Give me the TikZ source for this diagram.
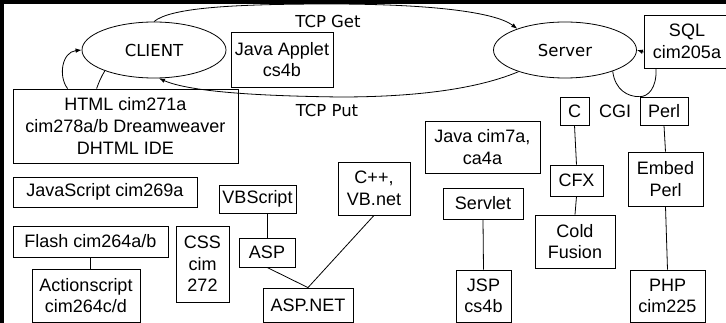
\documentclass[tikz,border=0pt]{standalone}
\usepackage{fontspec}
\setmainfont{Liberation Sans}
\newfontfamily\tahfont{DejaVu Sans}
\usetikzlibrary{shapes.geometric,arrows.meta}
\newcommand\boxfont{\fontsize{18}{21.6}\selectfont}
\newcommand\ellfont{\tahfont\fontsize{16.5}{19}\selectfont}
\tikzset{
  box/.style={draw=black, line width=0.8pt, inner sep=0pt, align=center, font=\boxfont},
  ell/.style={ellipse, draw=black, line width=0.8pt, inner sep=0pt, font=\ellfont},
  lbl/.style={inner sep=0pt, font=\ellfont},
  lbl2/.style={inner sep=0pt, font=\boxfont},
  con/.style={line width=0.8pt, draw=black},
  arr/.style={con, -{Latex[length=6pt,width=4.5pt]}}
}
\begin{document}
\begin{tikzpicture}[x=1pt,y=-1pt]
\useasboundingbox (0,0) rectangle (726,323);
\clip (0,0) rectangle (726,323);
\fill[white] (0,0) rectangle (726,323);
% ellipses
\node[ell, minimum width=144pt, minimum height=56pt] (client) at (154,50) {CLIENT};
\node[ell, minimum width=143pt, minimum height=56pt] (server) at (565,50) {Server};
% labels
\node[lbl] (tcpget) at (328,21) {TCP Get};
\node[lbl] (tcpput) at (327,110) {TCP Put};
\node[lbl2] (cgi) at (615,111) {CGI};
% boxes
\node[box, minimum width=102pt, minimum height=55pt] (applet) at (282,59.5) {Java Applet\\cs4b};
\node[box, minimum width=225pt, minimum height=74pt] (html) at (125.5,126) {HTML cim271a\\cim278a/b Dreamweaver\\DHTML IDE};
\node[box, minimum width=86pt, minimum height=53pt] (sql) at (687,41.5) {SQL\\cim205a};
\node[box, minimum width=48pt, minimum height=28pt] (perl) at (664,111) {Perl};
\node[box, minimum width=29pt, minimum height=28pt] (c) at (574.5,111) {C};
\node[box, minimum width=115pt, minimum height=52pt] (java7) at (482.5,147) {Java cim7a,\\ca4a};
\node[box, minimum width=53pt, minimum height=31pt] (cfx) at (576.5,180.5) {CFX};
\node[box, minimum width=80pt, minimum height=53pt] (cold) at (575,241.5) {Cold\\Fusion};
\node[box, minimum width=75pt, minimum height=54pt] (embed) at (665.5,179) {Embed\\Perl};
\node[box, minimum width=75pt, minimum height=52pt] (php) at (667.5,296) {PHP\\cim225};
\node[box, minimum width=80pt, minimum height=31pt] (servlet) at (483,203.5) {Servlet};
\node[box, minimum width=55pt, minimum height=52pt] (jsp) at (483.5,296) {JSP\\cs4b};
\node[box, minimum width=72pt, minimum height=53pt] (cpp) at (374,188.5) {C++,\\VB.net};
\node[box, minimum width=184pt, minimum height=30pt] (js) at (105,192) {JavaScript cim269a};
\node[box, minimum width=155pt, minimum height=31pt] (flash) at (90.5,241.5) {Flash cim264a/b};
\node[box, minimum width=108pt, minimum height=53pt] (act) at (86,295.5) {Actionscript\\cim264c/d};
\node[box, minimum width=53pt, minimum height=76pt] (css) at (202.5,264) {CSS\\cim\\272};
\node[box, minimum width=77pt, minimum height=28pt] (vbs) at (257.5,199) {VBScript};
\node[box, minimum width=56pt, minimum height=29pt] (asp) at (267,252.5) {ASP};
\node[box, minimum width=90pt, minimum height=34pt] (aspnet) at (308,305) {ASP.NET};
% connectors
\draw[arr] (client.north) .. controls (170,8) and (230,4) .. (330,4) .. controls (430,4) and (495,12) .. (server.156);
\draw[arr] (server.205) .. controls (470,92) and (400,97) .. (340,97) .. controls (260,96) and (190,92) .. (client.280);
\draw[arr] ([xshift=55pt]html.north west) .. controls (58,76) and (62,52) .. (client.west);
\draw[con] ([xshift=84pt]html.north west) .. controls (99,82) and (101,77) .. (client.203);
\draw[arr] ([yshift=-10.5pt]sql.west) -- (server.east);
\draw[con] (server.336) .. controls (615,90) and (628,97) .. (perl.north west);
\draw[con] ([xshift=-31pt]sql.south) .. controls (657,88) and (648,97) .. (perl.north west);
\draw[con] (c.south) -- (cfx.north);
\draw[con] (cfx.south) -- (cold.north);
\draw[con] (perl.south) -- (embed.north);
\draw[con] (embed.south) -- (php.north);
\draw[con] (servlet.south) -- (jsp.north);
\draw[con] (flash.south) -- (flash.south |- act.north);
\draw[con] (asp.north |- vbs.south) -- (asp.north);
\draw[con] (asp.south) -- (aspnet.north);
\draw[con] (cpp.south) -- (aspnet.north);
% black frame bands
\fill[black] (0,0) rectangle (726,4);
\fill[black] (0,0) rectangle (4,323);
\end{tikzpicture}
\end{document}
